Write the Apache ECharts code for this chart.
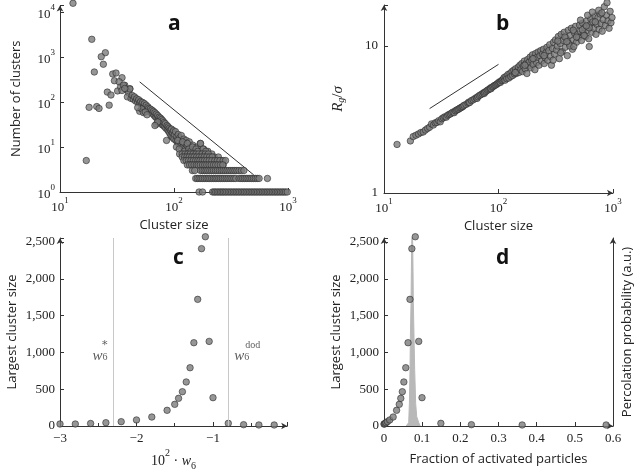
<!DOCTYPE html>
<html><head><meta charset="utf-8">
<script src="https://cdn.jsdelivr.net/npm/echarts@6/dist/echarts.min.js"></script>
<style>html,body{margin:0;padding:0;background:#fff}#c{width:642px;height:472px}</style>
</head><body><div id="c"></div><script>
// ---- Panel a: cluster size distribution ----
const aSparse = [[13,15600],[19,2470],[25,1245],[23,1015],[24,690],[20,464],[29,418],[31,440],[30,297],[35,347],[26,166],[28,143],[32,176],[34,219],[37,235],[41,198],[18,76],[21,79],[22,72],[27,85],[17,5]];
const aBand = [[33,282],[36,238],[38,190],[40,160],[41,194],[35,180],[37,200],[39,130],[42,120],[43,140],[44,115],[45,130],[46,105],[47,118],[48,100],[49,112],[50,95],[51,102],[52,88],[53,98],[54,80],[55,92],[56,75],[57,85],[58,68],[59,78],[60,72],[61,62],[62,70],[63,58],[64,66],[65,55],[66,62],[67,50],[68,58],[69,46],[70,54],[71,44],[72,50],[73,40],[74,46],[75,38],[76,44],[77,34],[78,41],[79,31],[80,38],[81,30],[82,35],[83,28],[84,33],[85,26],[86,14],[87,30],[88,24],[89,28],[90,22],[91,26],[92,20],[93,24],[94,18],[95,25],[96,17],[97,21],[98,16],[99,23],[100,15],[101,19],[103,22],[104,14],[106,17],[107,13],[109,19],[110,12],[112,16],[114,11],[116,18],[118,13],[120,10],[122,15],[124,12],[126,9],[128,14],[130,11],[133,8],[136,13],[139,10],[142,7],[146,11],[150,9],[155,7],[160,10],[165,8],[170,12],[175,7],[182,9],[190,6],[198,8],[206,6],[215,7],[225,6],[235,5],[245,6],[258,5],[270,4],[50,62],[52,70],[54,58],[48,75],[56,60],[58,52],[70,32],[72,36],[68,30],[105,10],[108,14],[111,9],[119,13],[123,8],[131,12],[135,9],[140,8],[145,10],[156,9],[162,8],[171,12],[180,9],[190,8]];
const aRow7 = [112,118,125,132,139,147,156,165,176,188,200];
const aRow6 = [118,124,130,136,143,150,158,166,175,184,194,205,216];
const aRow5 = [122,128,134,141,148,155,162,169,177,185,194,204,215,228,240,253,270,283];
const aRow4 = [131,137,143,150,157,163,170,178,186,194,203,212,222,232,243,255,268];
const aRow3 = [145,152,171,177,184,191,198,206,214,222,231,240,250,260,270,281,292,304,316,329,342,356,372,390,410];
const aRow2 = [155,160,166,172,178,185,192,199,206,214,222,230,238,247,256,266,276,287,298,310,322,335,348,372,386,400,415,430,446,463,480,498,517,537,558,660];
const aRow1 = [166,178,218,225,232,240,248,256,264,272,281,290,300,310,320,331,342,353,365,377,390,403,416,430,445,460,475,491,507,524,541,560,578,598,618,640,660,683,706,730,755,780,806,833,861,890,920,950,985];
const aGuide = [[50,280],[500,2.4]];

// ---- Panel b: radius of gyration ----
const bSmall = [[13,2.14],[17,2.26],[18,2.42],[19,2.47],[20,2.52],[21,2.58],[22,2.6],[23,2.68],[24,2.75],[25,2.8],[26,2.95],[27,2.9],[28,3.0],[29,3.02],[30,3.1],[31,3.05],[32,3.2],[33,3.25],[34,3.3],[35,3.28],[36,3.38],[37,3.42],[38,3.45],[39,3.5],[40,3.55],[41,3.52],[42,3.62],[43,3.66],[44,3.7],[45,3.72],[46,3.78],[47,3.8],[48,3.85],[49,3.88],[50,3.95],[52,4.0],[54,4.08],[55,4.15],[56,4.12],[58,4.25],[60,4.3],[62,4.38],[64,4.45],[65,4.4],[66,4.52],[68,4.6],[70,4.66],[72,4.72],[74,4.8],[75,4.75],[76,4.85],[78,4.92],[80,5.0],[82,5.05],[84,5.1],[85,5.18],[86,5.12],[88,5.25],[90,5.3],[92,5.38],[94,5.42],[96,5.48],[98,5.55],[100,5.62],[102,5.7],[104,5.65],[106,5.8],[108,5.85]];
const bLarge = [[110,5.95],[112,6.1],[114,5.85],[116,6.2],[118,6.0],[121,6.4],[123,6.05],[126,6.5],[128,6.2],[131,6.7],[133,6.3],[136,6.85],[138,6.45],[141,7.0],[143,6.5],[146,6.75],[149,7.2],[151,6.6],[154,7.4],[157,6.9],[160,7.6],[162,6.7],[165,7.3],[168,7.9],[171,7.0],[174,7.6],[177,6.5],[180,8.1],[183,7.3],[186,7.8],[189,8.4],[192,7.1],[195,8.0],[198,8.7],[201,7.5],[205,8.2],[208,6.9],[211,8.9],[215,7.7],[218,8.4],[222,9.1],[226,7.4],[230,8.6],[234,9.3],[238,7.9],[242,8.8],[247,9.5],[251,7.6],[256,8.3],[260,9.0],[265,9.8],[270,8.0],[275,9.3],[280,10.2],[285,8.5],[290,7.4],[296,9.6],[302,10.6],[308,8.8],[314,11.0],[320,9.4],[326,10.0],[333,11.6],[340,8.2],[346,10.4],[353,12.0],[360,9.2],[368,10.9],[375,12.4],[383,9.8],[391,11.3],[399,8.6],[407,12.8],[415,10.4],[424,11.8],[433,13.2],[442,9.5],[451,11.0],[460,12.3],[470,13.6],[480,10.6],[490,12.0],[500,11.4],[510,13.9],[520,12.6],[531,10.9],[542,14.3],[553,12.2],[565,13.3],[577,11.6],[589,14.8],[601,12.8],[614,11.2],[627,13.9],[640,15.3],[653,12.4],[667,14.6],[681,13.2],[695,16.0],[710,12.0],[725,14.0],[740,15.6],[756,13.0],[772,16.5],[788,14.2],[805,12.6],[822,15.1],[840,18.5],[858,13.8],[876,16.2],[887,19.7],[905,14.8],[924,13.2],[944,17.2],[960,14.4],[980,15.6],
  [300,8.0],[350,9.0],[420,10.0],[480,11.5],[560,11.8],[620,13.3],[700,14.6],[380,11.5],[450,12.8],[250,8.6],[200,8.2],[170,7.4],[140,6.6],[520,15.0],[600,16.2],[660,17.0],[750,17.5],[800,16.8],[620,9.9],[330,10.8],[395,10.7],[455,9.9],[540,12.9],[585,13.7]];
const bGuide = [[25,3.75],[100,7.5]];

// ---- Panels c and d ----
const w6Values = [-3,-2.8,-2.6,-2.4,-2.2,-2.0,-1.8,-1.6,-1.5,-1.45,-1.4,-1.35,-1.3,-1.25,-1.2,-1.15,-1.1,-1.05,-1.0,-0.8,-0.6,-0.4,-0.2];
const largestCluster = [27,27,34,45,59,82,122,213,294,376,466,598,792,1132,1721,2410,2572,1150,385,36,18,14,14];
const activatedFraction = [0.000,0.001,0.003,0.005,0.009,0.015,0.024,0.033,0.040,0.044,0.048,0.052,0.057,0.063,0.068,0.073,0.082,0.091,0.0996,0.149,0.229,0.362,0.582];
const w6Markers = [-2.3,-0.8];
const percolationX = [0.058,0.0647,0.0665,0.0682,0.0691,0.0708,0.0717,0.0726,0.0739,0.0752,0.0761,0.0769,0.0787,0.0804,0.083,0.0857,0.091,0.095];
const percolationP = [0,0.018,0.12,0.30,0.47,0.65,0.82,0.97,1.04,0.97,0.82,0.65,0.47,0.30,0.12,0.05,0.018,0];

const SERIF = '"Liberation Serif", serif';
const SANS = '"Open Sans", sans-serif';
const AX = '#333';
const mark = {color:'#7c7c7c', borderColor:'#222', borderWidth:0.7};
const supRich = {
  b:{fontFamily:SERIF,fontSize:13,color:'#222',lineHeight:18,verticalAlign:'bottom'},
  s:{fontFamily:SERIF,fontSize:9,color:'#222',lineHeight:18,verticalAlign:'top'}
};
function logFmt(v){const l=Math.log10(v);const e=Math.round(l);if(Math.abs(l-e)>1e-6)return '';return '{b|10}{s|'+e+'}';}
function plainLog(v){const l=Math.log10(v);const e=Math.round(l);if(Math.abs(l-e)>1e-6)return '';return String(Math.pow(10,e));}
function thous(v){if(Math.abs(v%500)>1e-6)return '';return v.toLocaleString('en-US');}
function minusFmt(v){if(Math.abs(v-Math.round(v))>1e-6)return '';return v<0?'\u2212'+(-v):String(v);}
const arrowLine = (arrow)=>({show:true,lineStyle:{color:AX,width:1},symbol:arrow?['none','arrow']:['none','none'],symbolSize:[5,6]});
const tick = {show:true,inside:true,length:4,lineStyle:{color:AX}};
const lbl = (fmt,extra)=>Object.assign({fontFamily:SERIF,fontSize:13,color:'#222',margin:6,formatter:fmt},extra||{});

const yName = (text,gap)=>({name:text,nameLocation:'middle',nameGap:gap,nameTextStyle:{fontFamily:SANS,fontSize:13,color:'#222'}});
const annRich = {
  i:{fontFamily:SERIF,fontStyle:'italic',fontSize:15,color:'#333',lineHeight:13},
  u:{fontFamily:SERIF,fontSize:10,color:'#333',lineHeight:13,verticalAlign:'bottom',padding:[4,0,0,0]},
  s:{fontFamily:'"DejaVu Serif", serif',fontSize:11,color:'#333',lineHeight:8,padding:[0,0,0,0]},
  sd:{fontFamily:SERIF,fontSize:10,color:'#333',lineHeight:8,padding:[0,0,0,11]}
};

const option = {
  animation:false,
  backgroundColor:'#fff',
  title:[
    {text:'a',left:163,top:9,textStyle:{fontFamily:SANS,fontWeight:'bold',fontSize:21,color:'#111'}},
    {text:'b',left:491,top:9,textStyle:{fontFamily:SANS,fontWeight:'bold',fontSize:21,color:'#111'}},
    {text:'c',left:168,top:243,textStyle:{fontFamily:SANS,fontWeight:'bold',fontSize:21,color:'#111'}},
    {text:'d',left:491,top:243,textStyle:{fontFamily:SANS,fontWeight:'bold',fontSize:21,color:'#111'}}
  ],
  grid:[
    {left:60,top:5.4,width:228,height:186.6,containLabel:false,outerBoundsMode:'none'},
    {left:384,top:5,width:229,height:188,containLabel:false,outerBoundsMode:'none'},
    {left:60,top:238,width:227.2,height:188,containLabel:false,outerBoundsMode:'none'},
    {left:384,top:238,width:229,height:188,containLabel:false,outerBoundsMode:'none'}
  ],
  xAxis:[
    Object.assign({gridIndex:0,type:'log',min:10,max:1000,axisLine:arrowLine(false),axisTick:tick,splitLine:{show:false},
      axisLabel:lbl(logFmt,{rich:supRich,margin:4})},{name:'Cluster size',nameLocation:'middle',nameGap:27,nameTextStyle:{fontFamily:SANS,fontSize:13,color:'#222'}}),
    Object.assign({gridIndex:1,type:'log',min:10,max:1000,axisLine:arrowLine(true),axisTick:tick,splitLine:{show:false},
      axisLabel:lbl(logFmt,{rich:supRich,margin:4})},{name:'Cluster size',nameLocation:'middle',nameGap:27,nameTextStyle:{fontFamily:SANS,fontSize:13,color:'#222'}}),
    {gridIndex:2,type:'value',min:-3,max:-0.03,interval:1,axisLine:arrowLine(true),axisTick:tick,minorTick:{show:true,splitNumber:2,length:3,lineStyle:{color:AX}},splitLine:{show:false},
      axisLabel:lbl(minusFmt),name:'{n|10}{s|2}{n| · }{i|w}{u|6}',nameLocation:'middle',nameGap:22,
      nameTextStyle:{rich:{n:{fontFamily:SERIF,fontSize:14,color:'#222',lineHeight:20,verticalAlign:'bottom'},s:{fontFamily:SERIF,fontSize:10,color:'#222',lineHeight:20,verticalAlign:'top'},i:{fontFamily:SERIF,fontStyle:'italic',fontSize:14,color:'#222',lineHeight:20,verticalAlign:'bottom'},u:{fontFamily:SERIF,fontSize:10,color:'#222',lineHeight:18,verticalAlign:'bottom',padding:[0,0,-3,0]}}}},
    {gridIndex:3,type:'value',min:0,max:0.6,interval:0.1,axisLine:arrowLine(true),axisTick:tick,splitLine:{show:false},
      axisLabel:lbl(v=>String(Math.round(v*10)/10)),name:'Fraction of activated particles',nameLocation:'middle',nameGap:27,nameTextStyle:{fontFamily:SANS,fontSize:13,color:'#222'}}
  ],
  yAxis:[
    Object.assign({gridIndex:0,type:'log',min:1,max:14000,axisLine:arrowLine(true),axisTick:tick,splitLine:{show:false},
      axisLabel:lbl(logFmt,{rich:supRich,margin:5})},yName('Number of clusters',37)),
    {gridIndex:1,type:'log',min:1,max:19,axisLine:arrowLine(true),axisTick:tick,splitLine:{show:false},
      axisLabel:lbl(plainLog,{margin:6}),name:'{i|R}{u|g}{n|/}{i|σ}',nameLocation:'middle',nameGap:38,
      nameTextStyle:{rich:{i:{fontFamily:SERIF,fontStyle:'italic',fontSize:15,color:'#222'},n:{fontFamily:SERIF,fontSize:15,color:'#222'},u:{fontFamily:SERIF,fontStyle:'italic',fontSize:10,color:'#222',padding:[6,0,0,0]}}}},
    Object.assign({gridIndex:2,type:'value',min:0,max:2555,interval:500,axisLine:arrowLine(true),axisTick:tick,splitLine:{show:false},
      axisLabel:lbl(thous,{margin:5})},yName('Largest cluster size',41)),
    Object.assign({gridIndex:3,type:'value',min:0,max:2555,interval:500,axisLine:arrowLine(true),axisTick:tick,splitLine:{show:false},
      axisLabel:lbl(thous,{margin:5})},yName('Largest cluster size',41)),
    Object.assign({gridIndex:3,type:'value',position:'right',min:0,max:1,axisLine:arrowLine(true),axisTick:{show:false},axisLabel:{show:false},splitLine:{show:false}},yName('Percolation probability (a.u.)',8))
  ],
  series:[
    {type:'line',xAxisIndex:0,yAxisIndex:0,data:aGuide,symbol:'none',lineStyle:{color:'#333',width:1},z:1},
    {type:'scatter',xAxisIndex:0,yAxisIndex:0,clip:false,symbolSize:6.5,itemStyle:mark,
      data:[].concat(aSparse,aBand,aRow7.map(s=>[s,7]),aRow6.map(s=>[s,6]),aRow5.map(s=>[s,5]),aRow4.map(s=>[s,4]),aRow3.map(s=>[s,3]),aRow2.map(s=>[s,2]),aRow1.map(s=>[s,1]))},
    {type:'line',xAxisIndex:1,yAxisIndex:1,data:bGuide,symbol:'none',lineStyle:{color:'#333',width:1},z:1},
    {type:'scatter',xAxisIndex:1,yAxisIndex:1,clip:false,symbolSize:6.5,itemStyle:mark,data:bSmall.concat(bLarge)},
    {type:'scatter',xAxisIndex:2,yAxisIndex:2,clip:false,symbolSize:6.5,itemStyle:mark,
      data:w6Values.map((w,i)=>[w,largestCluster[i]]),
      markLine:{silent:true,symbol:['none','none'],label:{show:false},lineStyle:{color:'#c8c8c8',width:1,type:'solid'},
        data:w6Markers.map(x=>({xAxis:x}))}},
    {type:'scatter',xAxisIndex:2,yAxisIndex:2,symbolSize:0,silent:true,
      data:[
        {value:[w6Markers[0],1005],label:{show:true,position:'left',distance:6,formatter:'{s|*}\n{i|w}{u|6}'}},
        {value:[w6Markers[1],1005],label:{show:true,position:'right',distance:6,formatter:'{sd|dod}\n{i|w}{u|6}'}}
      ],
      label:{rich:annRich}},
    {type:'line',xAxisIndex:3,yAxisIndex:4,data:percolationX.map((x,i)=>[x,percolationP[i]]),symbol:'none',smooth:false,
      lineStyle:{color:'#b8b8b8',width:1},areaStyle:{color:'#b8b8b8',opacity:1},z:1},
    {type:'scatter',xAxisIndex:3,yAxisIndex:3,clip:false,symbolSize:6.5,itemStyle:mark,z:3,
      data:activatedFraction.map((f,i)=>[f,largestCluster[i]])}
  ]
};
const chart = echarts.init(document.getElementById('c'),null,{renderer:'canvas'});
chart.setOption(option);
</script></body></html>
